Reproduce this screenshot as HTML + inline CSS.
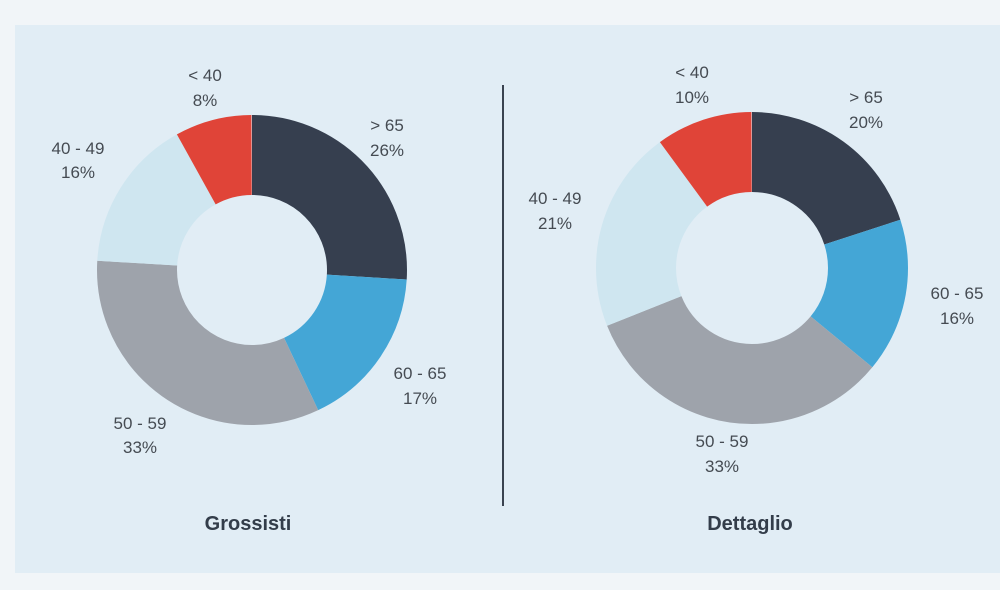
<!DOCTYPE html>
<html><head><style>
body{margin:0;width:1000px;height:590px;background:#f1f5f8;overflow:hidden}
svg{display:block}
text{font-family:"Liberation Sans",sans-serif;fill:#454b52;font-size:17px;text-anchor:middle}
.t{font-weight:bold;font-size:20px;fill:#333d4a}
</style></head><body>
<svg width="1000" height="590" viewBox="0 0 1000 590">
<rect x="15" y="25" width="985" height="548" fill="#e1edf5"/>
<line x1="503" y1="85" x2="503" y2="506" stroke="#3a4350" stroke-width="2"/>
<g transform="rotate(-90 252 270)" fill="none" stroke-width="80">
<circle cx="252" cy="270" r="115" pathLength="100" stroke="#363f4f" stroke-dasharray="26 100" stroke-dashoffset="0"/>
<circle cx="252" cy="270" r="115" pathLength="100" stroke="#44a6d6" stroke-dasharray="17 100" stroke-dashoffset="-26"/>
<circle cx="252" cy="270" r="115" pathLength="100" stroke="#9ea3ab" stroke-dasharray="33 100" stroke-dashoffset="-43"/>
<circle cx="252" cy="270" r="115" pathLength="100" stroke="#cfe6f0" stroke-dasharray="16 100" stroke-dashoffset="-76"/>
<circle cx="252" cy="270" r="115" pathLength="100" stroke="#e04438" stroke-dasharray="8 100" stroke-dashoffset="-92"/>
</g>
<g transform="rotate(-90 752 268)" fill="none" stroke-width="80">
<circle cx="752" cy="268" r="116" pathLength="100" stroke="#363f4f" stroke-dasharray="20 100" stroke-dashoffset="0"/>
<circle cx="752" cy="268" r="116" pathLength="100" stroke="#44a6d6" stroke-dasharray="16 100" stroke-dashoffset="-20"/>
<circle cx="752" cy="268" r="116" pathLength="100" stroke="#9ea3ab" stroke-dasharray="33 100" stroke-dashoffset="-36"/>
<circle cx="752" cy="268" r="116" pathLength="100" stroke="#cfe6f0" stroke-dasharray="21 100" stroke-dashoffset="-69"/>
<circle cx="752" cy="268" r="116" pathLength="100" stroke="#e04438" stroke-dasharray="10 100" stroke-dashoffset="-90"/>
</g>
<text x="205" y="81">&lt; 40</text><text x="205" y="106">8%</text>
<text x="387" y="131">&gt; 65</text><text x="387" y="156">26%</text>
<text x="420" y="379">60 - 65</text><text x="420" y="404">17%</text>
<text x="140" y="429">50 - 59</text><text x="140" y="453">33%</text>
<text x="78" y="154">40 - 49</text><text x="78" y="178">16%</text>
<text x="692" y="78">&lt; 40</text><text x="692" y="103">10%</text>
<text x="866" y="103">&gt; 65</text><text x="866" y="128">20%</text>
<text x="957" y="299">60 - 65</text><text x="957" y="324">16%</text>
<text x="722" y="447">50 - 59</text><text x="722" y="472">33%</text>
<text x="555" y="204">40 - 49</text><text x="555" y="229">21%</text>
<text class="t" x="248" y="530">Grossisti</text>
<text class="t" x="750" y="530">Dettaglio</text>
</svg>
</body></html>
